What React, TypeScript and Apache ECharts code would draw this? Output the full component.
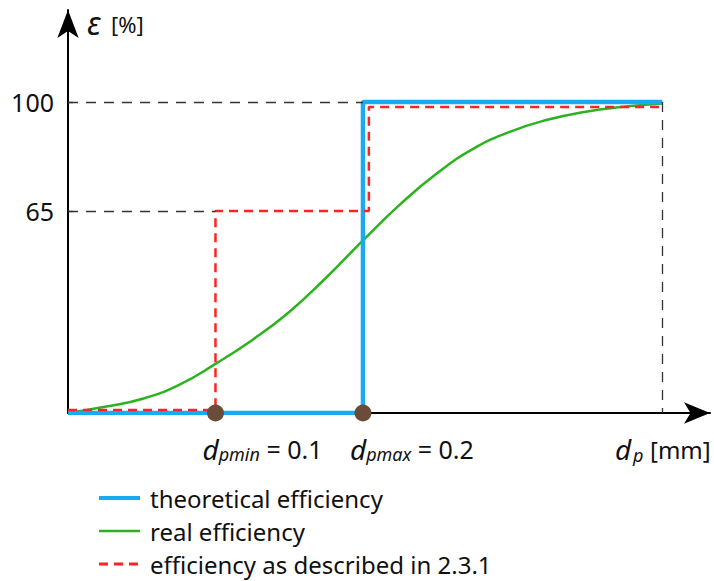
import React, { useEffect, useRef } from "react";
import * as echarts from "echarts";

const xEnd = 0.403;
const theoreticalX = [0, 0.2, 0.2, xEnd];
const theoreticalY = [0, 0, 100, 100];
const realX = [0, 0.025, 0.05, 0.075, 0.1, 0.125, 0.15, 0.175, 0.2, 0.225, 0.25, 0.275, 0.3, 0.325, 0.35, 0.375, xEnd];
const realY = [0, 2, 4.5, 9, 15.8, 23.5, 32.5, 43.5, 55.5, 67, 77, 85, 90.5, 94.3, 96.8, 98.4, 99.5];
const describedX = [0, 0.1, 0.1, 0.204, 0.204, xEnd];
const describedY = [1, 1, 65, 65, 98.4, 98.4];
const dotX = [0.1, 0.2];
const dotSub = ["pmin", "pmax"];
const dotVal = ["0.1", "0.2"];
const yTicks = [65, 100];
const seriesNames = ["theoretical efficiency", "real efficiency", "efficiency as described in 2.3.1"];

const FONT = "'Noto Sans', sans-serif";

function pairs(xs: number[], ys: number[]) {
  return xs.map((x, i) => [x, ys[i]]);
}

export default function App() {
  const ref = useRef<HTMLDivElement>(null);
  useEffect(() => {
    if (!ref.current) return;
    const chart = echarts.init(ref.current, null, { renderer: "svg" });
    const guide = { color: "#333", width: 1.3, type: [10, 8] as any };
    chart.setOption({
      animation: false,
      backgroundColor: "#fff",
      grid: { left: 68, right: 4, top: 10, bottom: 168 },
      xAxis: {
        type: "value",
        min: 0,
        max: 0.4353,
        splitLine: { show: false },
        axisLabel: { show: false },
        axisTick: { show: false },
        axisLine: {
          onZero: false,
          symbol: ["none", "arrow"],
          symbolSize: [16, 26],
          lineStyle: { color: "#000", width: 2 },
        },
      },
      yAxis: {
        type: "value",
        min: 0,
        max: 129.6,
        splitLine: { show: false },
        axisLine: {
          show: true,
          onZero: false,
          symbol: ["none", "arrow"],
          symbolSize: [16, 28],
          lineStyle: { color: "#000", width: 2 },
        },
        axisTick: {
          show: true,
          inside: true,
          length: 5,
          customValues: yTicks,
          lineStyle: { color: "#000", width: 1.3 },
        },
        axisLabel: {
          customValues: yTicks,
          margin: 14,
          fontFamily: FONT,
          fontSize: 25,
          color: "#111",
        },
      },
      legend: {
        data: [
          { name: seriesNames[0], lineStyle: { width: 4 } },
          { name: seriesNames[1], lineStyle: { width: 2.5 } },
          { name: seriesNames[2], lineStyle: { width: 3 } },
        ],
        orient: "vertical",
        left: 97,
        top: 486,
        padding: 0,
        itemWidth: 41,
        itemHeight: 14,
        itemGap: 9,
        itemStyle: { opacity: 0 },
        textStyle: {
          fontFamily: FONT,
          fontSize: 24,
          lineHeight: 24,
          color: "#111",
          padding: [0, 0, 0, 5],
        },
      },
      graphic: [
        {
          type: "text",
          x: 87,
          y: 6,
          style: {
            text: "ε",
            font: "italic 32px 'Noto Sans', sans-serif",
            fill: "#111",
            verticalAlign: "top",
          },
        },
        {
          type: "text",
          x: 111,
          y: 24,
          style: {
            text: "[%]",
            font: "22px 'Noto Sans', sans-serif",
            fill: "#111",
            verticalAlign: "middle",
          },
        },
        {
          type: "text",
          x: 615,
          y: 449,
          style: {
            text: "d",
            font: "italic 28px 'Noto Sans', sans-serif",
            fill: "#111",
            verticalAlign: "middle",
          },
        },
        {
          type: "text",
          x: 633,
          y: 455,
          style: {
            text: "p",
            font: "italic 18px 'Noto Sans', sans-serif",
            fill: "#111",
            verticalAlign: "middle",
          },
        },
        {
          type: "text",
          x: 650,
          y: 449,
          style: {
            text: "[mm]",
            font: "24px 'Noto Sans', sans-serif",
            fill: "#111",
            verticalAlign: "middle",
          },
        },
      ],
      series: [
        {
          name: seriesNames[1],
          type: "line",
          data: pairs(realX, realY),
          smooth: true,
          symbol: "none",
          color: "#2bb31f",
          lineStyle: { color: "#2bb31f", width: 2.5 },
          z: 2,
        },
        {
          name: seriesNames[0],
          type: "line",
          data: pairs(theoreticalX, theoreticalY),
          symbol: "none",
          color: "#1aaaf2",
          lineStyle: { color: "#1aaaf2", width: 4.5 },
          z: 3,
          markLine: {
            silent: true,
            symbol: "none",
            label: { show: false },
            lineStyle: guide,
            data: [
              [{ coord: [0, 100] }, { coord: [0.2, 100] }],
              [{ coord: [0, 65] }, { coord: [0.1, 65] }],
              [{ coord: [xEnd, 100] }, { coord: [xEnd, 0] }],
            ],
          },
        },
        {
          name: seriesNames[2],
          type: "line",
          data: pairs(describedX, describedY),
          symbol: "none",
          color: "#ff2222",
          lineStyle: { color: "#ff2222", width: 2.5, type: [9, 6] },
          z: 4,
        },
        {
          name: "dots",
          type: "scatter",
          data: dotX.map((x, i) => ({ value: [x, 0], sub: dotSub[i], val: dotVal[i] })),
          symbolSize: 17,
          itemStyle: { color: "#6b4c3a", opacity: 1 },
          z: 5,
          label: {
            show: true,
            position: "bottom",
            distance: 13,
            align: "left",
            offset: [-13, 0],
            formatter: (p: any) => `{d|d}{s|${p.data.sub}}{n| = ${p.data.val}}`,
            rich: {
              d: { fontFamily: FONT, fontSize: 28, fontStyle: "italic", color: "#111" },
              s: { fontFamily: FONT, fontSize: 18, fontStyle: "italic", color: "#111", verticalAlign: "bottom" },
              n: { fontFamily: FONT, fontSize: 25, color: "#111" },
            },
          },
        },
      ],
    });
    return () => chart.dispose();
  }, []);
  return <div ref={ref} style={{ width: 714, height: 581, position: "absolute", left: 0, top: 0 }} />;
}
